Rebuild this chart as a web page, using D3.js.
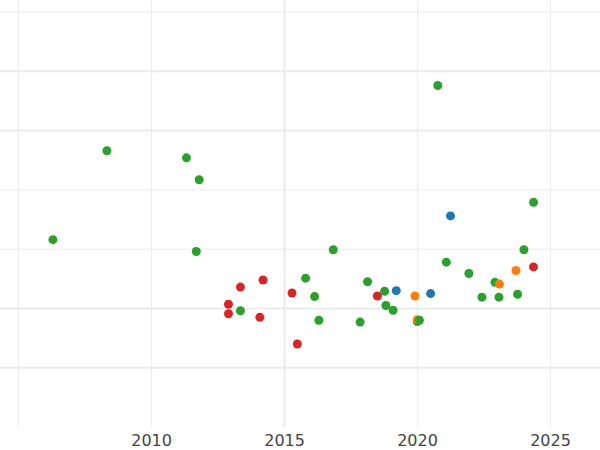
<!DOCTYPE html>
<html><head><meta charset="utf-8">
<script src="https://cdn.jsdelivr.net/npm/d3@7"></script>
<style>body{margin:0;background:#fff}</style></head>
<body><svg id="c" width="600" height="450"></svg>
<script>
const xTicks=[2005,2010,2015,2020,2025];
const xTickLabels=["","2010","2015","2020","2025"];
const yGridThick=[1,2,5,6];
const yGridThin=[3,4,7];
const greenYears=[2006.29,2008.32,2011.31,2011.79,2011.68,2013.34,2015.79,2016.13,2016.29,2016.83,2017.84,2018.12,2018.76,2018.81,2019.08,2019.99,2020.76,2021.08,2021.93,2022.42,2022.91,2023.06,2023.76,2024.0,2024.36];
const greenVals=[3.16,4.66,4.54,4.17,2.96,1.96,2.51,2.20,1.80,2.99,1.77,2.45,2.29,2.05,1.97,1.78,5.76,2.78,2.59,2.19,2.44,2.19,2.24,2.99,3.79];
const redYears=[2012.89,2012.89,2013.34,2014.07,2014.19,2015.28,2015.48,2018.49,2024.36];
const redVals=[2.07,1.91,2.36,1.85,2.48,2.26,1.40,2.21,2.70];
const blueYears=[2019.2,2020.49,2021.24];
const blueVals=[2.30,2.25,3.56];
const orangeYears=[2019.9,2019.99,2023.08,2023.70];
const orangeVals=[2.21,1.81,2.41,2.64];
const greenLate=[[2020.07,1.80]];

const svg=d3.select("#c");
const x=d3.scaleLinear().domain([2004.3,2026.86]).range([0,600]);
const y=d3.scaleLinear().domain([0,7]).range([427,12]);
const g=svg.append("g");
xTicks.forEach(t=>g.append("line").attr("x1",x(t)).attr("x2",x(t)).attr("y1",0).attr("y2",427)
  .attr("stroke","#ebebeb").attr("stroke-width",t===2015?2:1));
yGridThin.forEach(v=>g.append("line").attr("x1",0).attr("x2",600).attr("y1",y(v)).attr("y2",y(v)).attr("stroke","#ebebeb").attr("stroke-width",1));
yGridThick.forEach(v=>g.append("line").attr("x1",0).attr("x2",600).attr("y1",y(v)).attr("y2",y(v)).attr("stroke","#ebebeb").attr("stroke-width",2));
xTicks.forEach((t,i)=>svg.append("text").attr("x",x(t)).attr("y",446).attr("text-anchor","middle")
  .attr("font-family","DejaVu Sans, sans-serif").attr("font-size",16).attr("fill","#444").text(xTickLabels[i]));
function pts(ys,vs,col){ys.forEach((yr,i)=>svg.append("circle").attr("cx",x(yr)).attr("cy",y(vs[i])).attr("r",4.5).attr("fill",col));}
pts(greenYears,greenVals,"#2ca02c");
pts(redYears,redVals,"#d62728");
pts(blueYears,blueVals,"#1f77b4");
pts(orangeYears,orangeVals,"#ff7f0e");
pts(greenLate.map(d=>d[0]),greenLate.map(d=>d[1]),"#2ca02c");
</script></body></html>
